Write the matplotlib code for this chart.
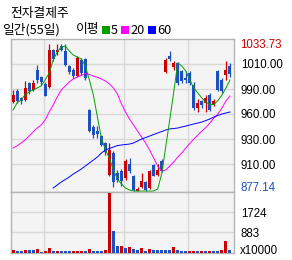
import matplotlib
matplotlib.use('Agg')
import matplotlib.pyplot as plt
from matplotlib.patches import Rectangle
import numpy as np

# ---- data ----
title = "전자결제주"
period_label = "일간(55일)"
ma_label = "이평"
ma_names = ["5", "20", "60"]

opens = [971.6, 984.3, 976.4, 974.3, 992.8, 984.9, 1006.1, 998.2, 991.2, 988.1,
         1027.4, 1025.2, 1031.1, 1026.3, 1010.4, 1006.1, 999.7, 1016.7, 1017.8, 963.6,
         945.6, 941.3, 936.0, 928.6, 894.6, 918.0, 896.7, 898.9, 891.4, 906.3,
         893.6, 877.6, 881.9, 887.2, 880.8, 905.2, 894.6, 909.5, 1004.0, 1021.0,
         1009.3, 1013.6, 1005.4, 997.6, 1002.9, 990.5, 965.8, 973.2, 971.1, 979.9,
         969.3, 1004.7, 995.8, 1001.1, 1010.4]
highs = [984.9, 985.9, 977.9, 994.4, 993.4, 995.5, 1010.9, 999.7, 993.4, 1033.2,
         1028.4, 1033.7, 1033.2, 1033.7, 1011.4, 1008.2, 1021.0, 1018.9, 1018.9, 964.7,
         947.7, 946.6, 937.1, 929.7, 928.6, 920.1, 899.9, 901.0, 911.6, 912.7,
         894.6, 881.9, 896.7, 888.3, 899.9, 906.3, 906.3, 911.6, 1018.9, 1026.3,
         1015.7, 1014.6, 1006.1, 1005.1, 1005.1, 993.4, 975.3, 974.6, 979.9, 981.7,
         975.3, 1006.1, 997.6, 1016.0, 1013.0]
lows = [971.1, 971.1, 969.5, 973.7, 980.1, 983.8, 992.3, 990.7, 978.0, 987.0,
        1015.7, 1022.0, 1026.3, 1010.4, 1001.9, 997.6, 998.7, 1000.8, 995.5, 940.3,
        933.9, 933.9, 925.4, 915.9, 893.6, 881.9, 887.2, 882.9, 889.3, 896.7,
        877.6, 877.14, 880.8, 877.6, 879.8, 893.6, 893.6, 897.8, 1002.9, 1015.7,
        1006.1, 990.2, 992.3, 992.3, 990.2, 963.6, 961.5, 965.8, 961.5, 962.6,
        967.9, 983.8, 981.7, 995.8, 998.7]
closes = [979.6, 972.7, 972.7, 987.0, 983.8, 992.3, 995.5, 993.4, 978.5, 1027.4,
          1018.3, 1027.4, 1026.8, 1011.4, 1003.5, 999.7, 1018.9, 1002.9, 997.6, 941.3,
          937.1, 938.2, 926.5, 919.0, 921.2, 887.2, 889.3, 888.3, 909.5, 898.9,
          878.2, 880.3, 888.3, 878.2, 898.9, 894.1, 900.0, 898.9, 1016.7, 1017.8,
          1013.6, 992.3, 994.8, 995.0, 992.3, 965.8, 971.1, 969.3, 976.4, 964.0,
          973.2, 985.2, 983.5, 1006.4, 1001.9]

# volume in units of 10000 shares, and whether the bar is drawn red
volumes = [126, 84, 84, 126, 126, 126, 168, 56, 84, 210,
           84, 84, 84, 84, 84, 84, 84, 84, 84, 168,
           84, 84, 84, 126, 2523, 925, 294, 294, 210, 252,
           168, 126, 210, 84, 168, 126, 126, 126, 126, 126,
           252, 126, 84, 84, 84, 84, 84, 84, 84, 84,
           84, 84, 126, 505, 126]
vol_up = [1, 0, 0, 1, 0, 0, 1, 0, 1, 1,
          0, 1, 0, 0, 0, 1, 1, 1, 0, 1,
          0, 0, 0, 1, 1, 0, 0, 1, 0, 1,
          0, 0, 1, 0, 1, 0, 0, 0, 0, 0,
          1, 0, 0, 0, 1, 1, 0, 1, 0, 1,
          0, 0, 1, 1, 0]

ma5 = [963.6, 971.1, 974.3, 979.6, 982.8, 984.9, 987.0, 989.1, 995.5, 1002.9,
       1016.7, 1025.2, 1030.5, 1031.6, 1026.3, 1022.0, 1019.9, 1017.8, 1010.4, 995.5,
       979.6, 956.2, 933.9, 921.2, 912.7, 899.9, 890.4, 885.1, 880.8, 878.7,
       877.6, 877.6, 877.6, 877.6, 877.6, 877.6, 879.8, 895.7, 924.3, 953.0,
       982.8, 1013.6, 1010.4, 1005.1, 995.5, 987.0, 981.7, 976.4, 972.1, 969.3,
       969.3, 973.8, 979.6, 987.0, 995.5]
ma20 = [923.3, 925.4, 928.6, 931.8, 936.0, 940.3, 944.5, 947.7, 953.0, 961.5,
        968.9, 977.4, 984.9, 989.1, 993.4, 996.6, 998.7, 1000.3, 1002.4, 1001.3,
        999.7, 998.2, 996.6, 994.4, 991.2, 987.0, 980.6, 970.0, 961.5, 954.1,
        947.7, 941.3, 935.0, 928.6, 921.2, 912.7, 904.2, 898.9, 899.9, 904.2,
        908.4, 913.7, 918.0, 923.3, 928.1, 932.8, 937.1, 941.3, 945.1, 949.8,
        955.1, 959.4, 965.8, 973.2, 978.5]
ma60_start = 10
ma60 = [880.8, 884.0, 887.2, 889.8, 892.5, 895.7, 898.3, 901.0, 904.2, 907.4,
        910.5, 913.7, 918.0, 921.2, 922.8, 924.3, 925.9, 926.5, 927.0, 927.5,
        928.6, 930.7, 932.8, 934.4, 936.0, 937.6, 939.2, 940.8, 942.4, 943.5,
        944.0, 944.5, 945.6, 946.6, 947.7, 948.8, 949.8, 950.9, 952.5, 954.1,
        956.2, 957.8, 959.4, 960.5, 961.5]

price_max, price_min = 1033.73, 877.14
price_grid = [1012.5, 985.9, 959.4, 932.8, 906.3]
price_grid_labels = ["1010.00", "990.00", "960.00", "930.00", "910.00"]
vol_grid = [883, 1724]
vol_grid_labels = ["883", "1724"]
month_lines = [7.7, 27.6, 43.5]

# ---- style ----
RED = '#cc0000'
BLUE = '#1e4fbf'
MA_COLORS = ['#00a000', '#ff00ff', '#0000ff']
PANEL_BG = '#f4f4f4'
GRID = '#d8d8d8'
BORDER = '#b4b4b4'
NUM_FONT = ['Liberation Sans', 'DejaVu Sans']
KR_FONT = ['Noto Sans CJK KR', 'DejaVu Sans']

W, H = 292, 260
fig = plt.figure(figsize=(W / 100, H / 100), dpi=100)
fig.patch.set_facecolor('white')


def fbox(x0, y0, x1, y1):
    # pixel box -> figure fraction
    return [x0 / W, 1 - y1 / H, (x1 - x0) / W, (y1 - y0) / H]


ax = fig.add_axes(fbox(11, 39, 234, 192))
axv = fig.add_axes(fbox(11, 192, 234, 253), sharex=ax)

n = len(closes)
idx = np.arange(n)
o = np.array(opens); c = np.array(closes)
up = c >= o
cols = np.where(up, RED, BLUE)

for a in (ax, axv):
    a.set_facecolor(PANEL_BG)
    for s in a.spines.values():
        s.set_color(BORDER)
        s.set_linewidth(1.0)
    for m in month_lines:
        a.axvline(m, color=GRID, lw=1.0, zorder=0)
    a.tick_params(axis='both', length=0)
    a.set_xticks([])
    a.yaxis.tick_right()

ax.set_xlim(-0.5, 55)

# price panel
for p in price_grid:
    ax.axhline(p, color=GRID, lw=1.0, zorder=0)
ax.vlines(idx, lows, highs, colors=cols, lw=0.9, zorder=2)
bottoms = np.minimum(o, c)
heights = np.maximum(np.abs(c - o), 0.6)
ax.bar(idx, heights, bottom=bottoms, width=0.75, color=cols, lw=0, zorder=3)

ax.plot(idx, ma20, color=MA_COLORS[1], lw=0.7, zorder=4)
ax.plot(np.arange(ma60_start, n), ma60, color=MA_COLORS[2], lw=0.7, zorder=4)
ax.plot(idx, ma5, color=MA_COLORS[0], lw=0.7, zorder=5)

ax.set_ylim(876.6, 1039.0)
ax.set_yticks(price_grid)
ax.set_yticklabels(price_grid_labels, fontfamily=NUM_FONT, fontsize=8.3)
ax.tick_params(axis='y', pad=5)
ytr = ax.get_yaxis_transform()
ax.text(1.027, price_max, f"{price_max:.2f}", transform=ytr, color=RED,
        fontfamily=NUM_FONT, fontsize=8.3, va='center_baseline', ha='left')
ax.text(1.027, price_min, f"{price_min:.2f}", transform=ytr, color=BLUE,
        fontfamily=NUM_FONT, fontsize=8.3, va='baseline', ha='left')

# volume panel
for v in vol_grid:
    axv.axhline(v, color=GRID, lw=1.0, zorder=0)
vcols = [RED if u else BLUE for u in vol_up]
axv.bar(idx, volumes, width=0.75, color=vcols, lw=0, zorder=3)
axv.set_ylim(0, 2565)
axv.set_yticks(vol_grid)
axv.set_yticklabels(vol_grid_labels, fontfamily=NUM_FONT, fontsize=8.3)
axv.tick_params(axis='y', pad=5)
axv.text(1.027, 0.03, "x10000", transform=axv.transAxes, fontfamily=NUM_FONT,
         fontsize=8.3, va='center', ha='left')

# header text
fig.text(10 / W, 1 - 13.5 / H, title, fontfamily=KR_FONT, fontsize=9.2,
         va='center', ha='left')
fig.text(2.5 / W, 1 - 30 / H, period_label, fontfamily=KR_FONT, fontsize=9.2,
         va='center', ha='left')
fig.text(76 / W, 1 - 30 / H, ma_label, fontfamily=KR_FONT, fontsize=9.2,
         va='center', ha='left')
sq_x = [102, 121, 148]
num_x = [111, 130, 157]
for sx, nx, col, name in zip(sq_x, num_x, MA_COLORS, ma_names):
    fig.patches.append(Rectangle((sx / W, 1 - 34 / H), 8 / W, 8 / H,
                                 transform=fig.transFigure, color=col, lw=0))
    fig.text(nx / W, 1 - 30 / H, name, fontfamily=KR_FONT, fontsize=9.2,
             va='center', ha='left')

fig.savefig('out.png', dpi=100)
